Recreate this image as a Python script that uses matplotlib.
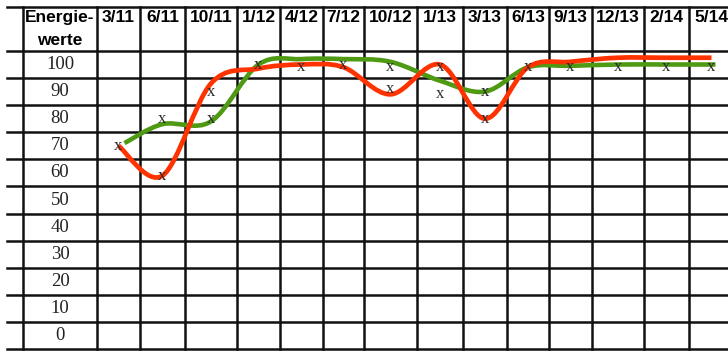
import numpy as np
import matplotlib
matplotlib.use("Agg")
import matplotlib.pyplot as plt
from matplotlib.path import Path
from matplotlib.patches import PathPatch

# data
dates = ["3/11", "6/11", "10/11", "1/12", "4/12", "7/12", "10/12",
         "1/13", "3/13", "6/13", "9/13", "12/13", "2/14", "5/14"]
row_values = [100, 90, 80, 70, 60, 50, 40, 30, 20, 10, 0]

red_curve = [70, 59, 93, 98.5, 100, 99, 89, 100, 80, 99, 101, 102.5, 102.5, 102.5]
green_curve = [71, 78, 79, 100, 102, 102, 101, 94, 90, 99, 99.5, 100, 100, 100]

# the "x" marks (upper / lower one per column, nan = no mark)
marks_upper = [70, 80, 90, 100, 99, 100, 99, 99, 90, 99, 99, 99, 99, 99]
marks_lower = [np.nan, 59, 80, np.nan, np.nan, np.nan, 91, 89, 80,
               np.nan, np.nan, np.nan, np.nan, np.nan]

# table layout (pixel columns)
col_edges = [97, 140, 185, 237, 280, 323, 364, 417, 463, 507, 549, 592, 644, 689, 734]
label_left = 23
stub_left = 7
centers = [(a + b) / 2 for a, b in zip(col_edges[:-1], col_edges[1:])]

RED = "#ff3300"
GREEN = "#4e9a12"
HEAD_FONT = ["Liberation Sans Narrow", "Liberation Sans", "DejaVu Sans"]
ROW_FONT = ["Liberation Serif", "DejaVu Serif"]


def smooth_path(xs, ys):
    # Catmull-Rom through the points, drawn as cubic bezier segments
    pts = np.column_stack([xs, ys])
    verts = [pts[0]]
    codes = [Path.MOVETO]
    n = len(pts)
    for i in range(n - 1):
        p0 = pts[max(i - 1, 0)]
        p1 = pts[i]
        p2 = pts[i + 1]
        p3 = pts[min(i + 2, n - 1)]
        c1 = p1 + (p2 - p0) / 6
        c2 = p2 - (p3 - p1) / 6
        verts += [c1, c2, p2]
        codes += [Path.CURVE4] * 3
    return Path(verts, codes)


fig = plt.figure(figsize=(7.28, 3.51), dpi=100)
ax = fig.add_axes([0, 0, 1, 1])
ax.set_xlim(0, 728)
ax.set_ylim(-5.7, 123.8)
ax.axis("off")

top = 121.2
grid_kw = dict(color="#111111", lw=1.8)

# horizontal lines
for yv in [top] + [v + 5 for v in row_values] + [-5]:
    ax.plot([stub_left, 728], [yv, yv], **grid_kw)
# vertical lines
for xv in [label_left] + col_edges:
    ax.plot([xv, xv], [-5, top], **grid_kw)

# header
lab_x = (label_left + col_edges[0]) / 2
ax.text(lab_x, 117.4, "Energie-", ha="center", va="center", fontsize=12.5,
        fontweight="bold", family=HEAD_FONT)
ax.text(lab_x, 109.0, "werte", ha="center", va="center", fontsize=12.5,
        fontweight="bold", family=HEAD_FONT)
for cx, d in zip(centers, dates):
    ax.text(cx, 117.4, d, ha="center", va="center", fontsize=12.5,
            fontweight="bold", family=HEAD_FONT)

# row labels
for v in row_values:
    ax.text(lab_x, v, str(v), ha="center", va="center", fontsize=13.5,
            family=ROW_FONT, color="#222222")

# curves
green_x = [centers[0] + 6] + centers[1:-1] + [centers[-1] + 4]
ax.add_patch(PathPatch(smooth_path(green_x, green_curve),
                       fill=False, edgecolor=GREEN, lw=3.3, capstyle="butt", zorder=3))
ax.add_patch(PathPatch(smooth_path(centers, red_curve),
                       fill=False, edgecolor=RED, lw=3.4, capstyle="butt", zorder=4))

# x marks
for cx, a, b in zip(centers, marks_upper, marks_lower):
    for v in (a, b):
        if not np.isnan(v):
            ax.text(cx, v, "x", ha="center", va="center", fontsize=12,
                    family=ROW_FONT, color="#2a2a2a", zorder=5)

fig.savefig("out.png", dpi=100)
